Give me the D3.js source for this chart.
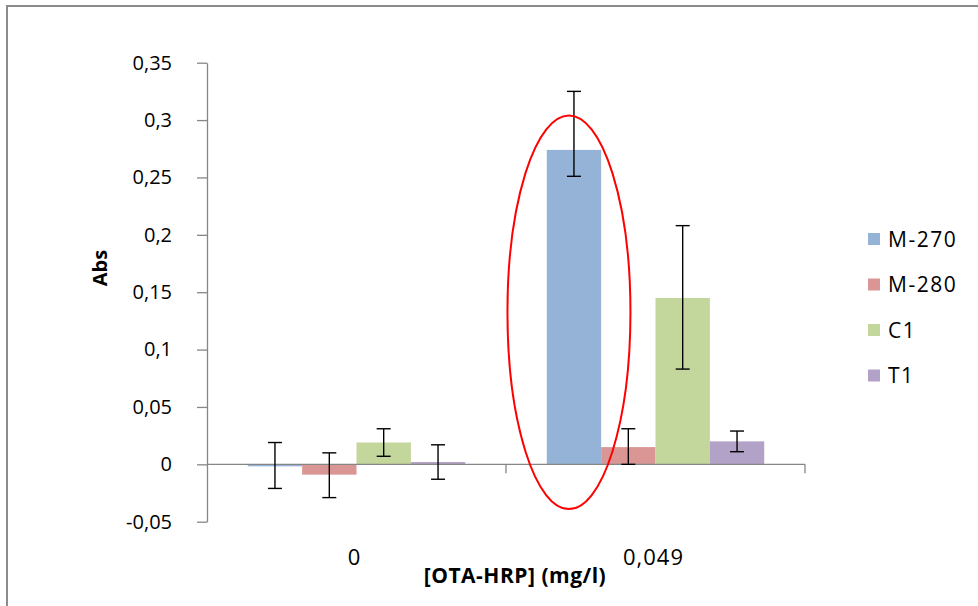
<!DOCTYPE html>
<html>
<head>
<meta charset="utf-8">
<script src="https://cdn.jsdelivr.net/npm/d3@7"></script>
<style>
  body { margin: 0; background: #fff; }
  svg { display: block; font-family: "Open Sans", sans-serif; }
</style>
</head>
<body>
<div id="chart"></div>
<script>
// Data
const categories = ["0", "0,049"];
const series = ["M-270", "M-280", "C1", "T1"];
const colors = ["#95b3d7", "#d99694", "#c3d69b", "#b3a2c7"];

// values[series][category]
const values = {
  "M-270": [-0.001, 0.274],
  "M-280": [-0.009, 0.015],
  "C1":    [0.019, 0.145],
  "T1":    [0.002, 0.020]
};
// custom error bars (plus / minus)
const errPlus = {
  "M-270": [0.020, 0.051],
  "M-280": [0.019, 0.016],
  "C1":    [0.012, 0.063],
  "T1":    [0.015, 0.009]
};
const errMinus = {
  "M-270": [0.020, 0.023],
  "M-280": [0.020, 0.015],
  "C1":    [0.012, 0.062],
  "T1":    [0.015, 0.009]
};

const yTicks = [-0.05, 0, 0.05, 0.1, 0.15, 0.2, 0.25, 0.3, 0.35];

const width = 978;
const height = 606;
const marginTop = 62.7;
const marginBottom = 84.3;   // plot bottom at 521.7
const plotLeft = 207;
const plotRight = 805;

const svg = d3.select("#chart").append("svg")
    .attr("width", width)
    .attr("height", height);

// outer frame of the chart area
svg.append("rect")
    .attr("x", 7).attr("y", 6)
    .attr("width", 1000).attr("height", 700)
    .attr("fill", "none")
    .attr("stroke", "#8c8c8c")
    .attr("stroke-width", 2);

const y = d3.scaleLinear()
    .domain([-0.05, 0.35])
    .range([height - marginBottom, marginTop]);

const x0 = d3.scaleBand()
    .domain(categories)
    .range([plotLeft, plotRight])
    .padding(0);

const x1 = d3.scaleBand()
    .domain(series)
    .range([0, x0.bandwidth()])
    .paddingInner(0)
    .paddingOuter(0.75);

const fmt = d => String(+d.toFixed(2)).replace(".", ",");

// y axis
const yAxis = svg.append("g")
    .attr("transform", `translate(${plotLeft},0)`)
    .call(d3.axisLeft(y).tickValues(yTicks).tickSize(10).tickPadding(25).tickFormat(fmt).tickSizeOuter(0));
yAxis.select(".domain").attr("stroke", "#868686").attr("stroke-width", 1.3);
yAxis.selectAll(".tick line").attr("stroke", "#868686").attr("stroke-width", 1.3);
yAxis.selectAll(".tick text")
    .attr("font-size", 20)
    .attr("font-family", "Open Sans, sans-serif")
    .attr("fill", "#000");

// bars
const rows = categories.flatMap((c, i) => series.map(s => ({
  cat: c, s: s, v: values[s][i], ep: errPlus[s][i], em: errMinus[s][i]
})));
const color = d3.scaleOrdinal().domain(series).range(colors);

svg.append("g")
  .selectAll("rect")
  .data(rows)
  .join("rect")
    .attr("x", d => x0(d.cat) + x1(d.s))
    .attr("width", x1.bandwidth())
    .attr("y", d => Math.min(y(d.v), y(0)))
    .attr("height", d => Math.max(Math.abs(y(d.v) - y(0)), 2))
    .attr("fill", d => color(d.s));

// x axis line at zero, with ticks at category boundaries
const xLine = svg.append("g");
xLine.append("line")
    .attr("x1", plotLeft).attr("x2", plotRight)
    .attr("y1", y(0)).attr("y2", y(0))
    .attr("stroke", "#868686").attr("stroke-width", 1.3);
xLine.selectAll("line.tk")
  .data(categories.slice(1).map(c => x0(c)).concat([plotRight]))
  .join("line")
    .attr("class", "tk")
    .attr("x1", d => d).attr("x2", d => d)
    .attr("y1", y(0)).attr("y2", y(0) + 9)
    .attr("stroke", "#868686").attr("stroke-width", 1.3);

// error bars
const eb = svg.append("g")
    .attr("stroke", "#000")
    .attr("stroke-width", 1.4);
const cap = 7;
rows.forEach(d => {
  const cx = x0(d.cat) + x1(d.s) + x1.bandwidth() / 2;
  const top = y(d.v + d.ep), bot = y(d.v - d.em);
  eb.append("line").attr("x1", cx).attr("x2", cx).attr("y1", top).attr("y2", bot);
  eb.append("line").attr("x1", cx - cap).attr("x2", cx + cap).attr("y1", top).attr("y2", top);
  eb.append("line").attr("x1", cx - cap).attr("x2", cx + cap).attr("y1", bot).attr("y2", bot);
});

// x tick labels (low position, under the plot area)
svg.append("g")
  .selectAll("text")
  .data(categories)
  .join("text")
    .attr("x", d => x0(d) + x0.bandwidth() / 2 - 2)
    .attr("y", 565)
    .attr("text-anchor", "middle")
    .attr("font-size", 22)
    .attr("letter-spacing", 1)
    .text(d => d);

// axis titles
svg.append("text")
    .attr("x", 515)
    .attr("y", 583)
    .attr("text-anchor", "middle")
    .attr("font-weight", "bold")
    .attr("font-size", 21)
    .attr("letter-spacing", 0.5)
    .text("[OTA-HRP] (mg/l)");

svg.append("text")
    .attr("transform", "translate(107,268) rotate(-90)")
    .attr("text-anchor", "middle")
    .attr("font-weight", "bold")
    .attr("font-size", 20)
    .text("Abs");

// red highlight ellipse around the M-270 bar at 0,049
const ex = x0("0,049") + x1("M-270") + x1.bandwidth() / 2 - 5;
const eTop = y(0.304), eBot = y(-0.039);
svg.append("ellipse")
    .attr("cx", ex)
    .attr("cy", (eTop + eBot) / 2)
    .attr("rx", 61.5)
    .attr("ry", (eBot - eTop) / 2)
    .attr("fill", "none")
    .attr("stroke", "#ff0000")
    .attr("stroke-width", 2);

// legend
const legend = svg.append("g")
  .selectAll("g")
  .data(series)
  .join("g")
    .attr("transform", (d, i) => `translate(868,${239 + i * 45.5})`);
legend.append("rect")
    .attr("x", 0).attr("y", -6)
    .attr("width", 12).attr("height", 12)
    .attr("fill", d => color(d));
legend.append("text")
    .attr("x", 20)
    .attr("y", 7.5)
    .attr("font-size", 21)
    .attr("letter-spacing", 1.5)
    .text(d => d);
</script>
</body>
</html>
